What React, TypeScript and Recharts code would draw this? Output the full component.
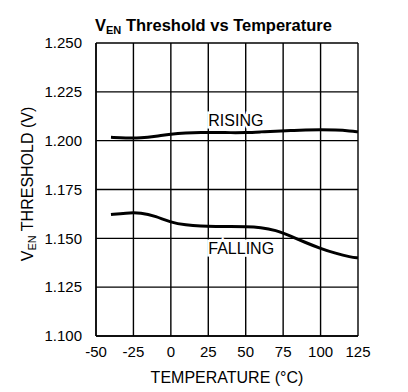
import React from 'react';
import { LineChart, Line, XAxis, YAxis, CartesianGrid, ReferenceDot, Label } from 'recharts';

const temperatures = [-40, -30, -20, -10, 0, 10, 20, 30, 40, 50, 60, 70, 80, 90, 100, 110, 120, 125];
const rising = [1.2017, 1.2013, 1.2013, 1.2022, 1.2034, 1.204, 1.2043, 1.2042, 1.2041, 1.2041, 1.2045, 1.2049, 1.2052, 1.2055, 1.2056, 1.2055, 1.205, 1.2045];
const falling = [1.1622, 1.163, 1.1632, 1.1613, 1.1581, 1.1568, 1.1562, 1.156, 1.156, 1.156, 1.1556, 1.1542, 1.1512, 1.1478, 1.1448, 1.1423, 1.1404, 1.14];
const xTicks = [-50, -25, 0, 25, 50, 75, 100, 125];
const yTicks = [1.1, 1.125, 1.15, 1.175, 1.2, 1.225, 1.25];
const annotationText = ['RISING', 'FALLING'];
const annotationT = [25, 25];
const annotationV = [1.2077, 1.1422];

const data = temperatures.map((t, i) => ({ t, rising: rising[i], falling: falling[i] }));

const FONT = '"Liberation Sans", Arial, sans-serif';

const XLabel = (props: any) => {
  const vb = props.viewBox;
  return (
    <text x={vb.x + vb.width / 2} y={vb.y + 47} textAnchor="middle" fontFamily={FONT} fontSize={16} fill="#000">
      TEMPERATURE (°C)
    </text>
  );
};

const YLabel = (props: any) => {
  const cx = 33;
  const cy = 184;
  return (
    <text x={cx} y={cy} textAnchor="middle" fontFamily={FONT} fontSize={16} fill="#000" transform={`rotate(-90, ${cx}, ${cy})`}>
      <tspan>V</tspan>
      <tspan fontSize={11} dy={3}>EN</tspan>
      <tspan dy={-3}> THRESHOLD (V)</tspan>
    </text>
  );
};

const makeAnno = (txt: string) => (props: any) => (
  <text
    x={props.cx}
    y={props.cy}
    fontFamily={FONT}
    fontSize={16}
    fill="#000"
    stroke="#fff"
    strokeWidth={5}
    paintOrder="stroke"
    style={{ paintOrder: 'stroke' }}
  >
    {txt}
  </text>
);

export default function App() {
  return (
    <div style={{ position: 'absolute', left: 0, top: 0, width: 408, height: 392, background: '#fff' }}>
      <LineChart width={408} height={392} data={data} margin={{ top: 43, right: 50, bottom: 0, left: 0 }}>
        <text x={95} y={31} fontFamily={FONT} fontSize={16.5} fontWeight="bold" fill="#000">
          <tspan>V</tspan>
          <tspan fontSize={11} dy={3}>EN</tspan>
          <tspan dy={-3}> Threshold vs Temperature</tspan>
        </text>
        <CartesianGrid stroke="#000" strokeWidth={1.4} />
        <XAxis
          dataKey="t"
          type="number"
          domain={[-50, 125]}
          ticks={xTicks}
          height={56}
          tickSize={0}
          tickMargin={10}
          axisLine={{ stroke: '#000', strokeWidth: 1.4 }}
          tickLine={false}
          tick={{ fontFamily: FONT, fontSize: 15, fill: '#000' }}
          interval={0}
        >
          <Label content={XLabel} />
        </XAxis>
        <YAxis
          type="number"
          domain={[1.1, 1.25]}
          ticks={yTicks}
          width={96}
          tickSize={0}
          tickMargin={14}
          axisLine={{ stroke: '#000', strokeWidth: 1.4 }}
          tickLine={false}
          tick={{ fontFamily: FONT, fontSize: 15, fill: '#000' }}
          tickFormatter={(v: number) => v.toFixed(3)}
          interval={0}
        >
          <Label content={YLabel} />
        </YAxis>
        <Line type="basis" dataKey="rising" stroke="#000" strokeWidth={3} dot={false} isAnimationActive={false} />
        <Line type="basis" dataKey="falling" stroke="#000" strokeWidth={3} dot={false} isAnimationActive={false} />
        {annotationText.map((txt, i) => (
          <ReferenceDot key={txt} x={annotationT[i]} y={annotationV[i]} r={0} shape={makeAnno(txt)} />
        ))}
      </LineChart>
    </div>
  );
}
